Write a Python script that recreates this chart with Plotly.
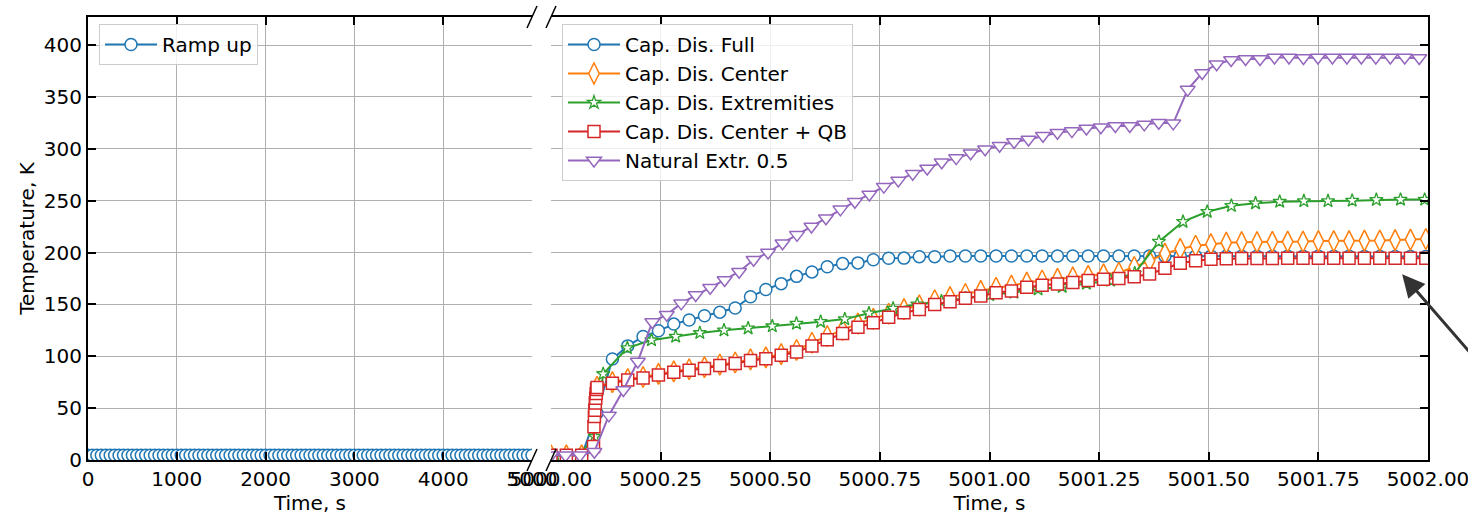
import plotly.graph_objects as go

# ---------------- data ----------------
# Left panel: ramp up (time in s, temperature in K)
ramp_time = list(range(0, 5001, 50))
ramp_temp = [4.5] * len(ramp_time)

# Right panel: times are seconds after 5000 s
STEP_A = 0.035   # Full / Center / Center+QB sampling
STEP_P = 0.033   # Natural Extr. sampling
STEP_G = 0.0551  # Extremities sampling

full_temp = [4.5, 4.5, 4.5, 45, 97.3, 110, 119, 124.5, 131, 135, 139, 142.5, 146.5,
             157.3, 164.3, 170, 177, 181.3, 186.2, 189.3, 190, 193, 194.4, 194.6,
             196, 196, 196.6, 196.6, 196.6, 196.6, 196.6, 196.6, 196.6, 196.6, 196.6,
             196.6, 196.6, 196.6, 196.6, 196.6, 196.5, 196.5, 196.5, 196.5, 196.4,
             196.4, 196.4, 196.4, 196.3, 196.3, 196.3, 196.3, 196.3, 196.2, 196.2,
             196.2, 196.2, 196.2]

# quench jump (several saved points at almost the same time)
jump_time = [0.097, 0.098, 0.099, 0.100, 0.101, 0.102, 0.103, 0.104, 0.105]
qb_jump = [13, 32, 42, 48, 55, 59.5, 64, 68, 70]
center_jump = [13.5, 32.5, 42.5, 48.5, 55.5, 60, 64.5, 68.5, 70.5]

qb_temp = [74, 77, 79, 82, 84.5, 86.4, 88.3, 91, 93, 96, 97.6, 101, 104, 110, 116,
           122, 128, 132.4, 137.5, 142, 145, 150, 152.6, 155.8, 158, 161.3, 163,
           166.5, 168.5, 169.6, 171, 173, 174.2, 175, 176.7, 179.3, 184.8, 189.6, 192,
           193.4, 194, 194.2, 194.3, 194.3, 194.4, 194.4, 194.4, 194.5, 194.5, 194.5,
           194.5, 194.5, 194.5, 194.5]
center_temp = [75, 78, 80, 83, 85.5, 87.5, 89.5, 92, 94, 97, 99, 102, 106, 113, 119.5,
               125.5, 131.5, 136, 141, 145.5, 149, 154, 157, 160, 163, 166, 168, 171,
               173, 174.5, 176, 177.5, 179, 180.5, 186, 192, 199, 203.5, 206.5, 208,
               209.5, 210, 210, 210.3, 210.5, 210.5, 211, 211, 211, 211.5, 211.5, 212,
               212.5, 213]

extr_pre_time = [0.009, 0.064, 0.100]
extr_pre_temp = [4.5, 4.5, 22.5]
extr_start = 0.119
extr_temp = [83, 108, 115.5, 119, 122.5, 125, 127, 129, 131.5, 133.3, 135.8, 141.5,
             146, 150, 153, 156, 159, 161.5, 164.5, 167, 170, 173, 180, 210.5, 229.7,
             239.3, 245, 247.5, 249, 249.6, 249.6, 250, 250.8, 251, 251]

nat_temp = [4.5, 4.5, 4.5, 8, 43, 67.5, 95, 133, 140, 151, 159, 166, 173.5, 181.5,
            193, 200, 209, 217, 225, 233, 241.6, 249, 256, 263.5, 269.5, 276, 281, 287,
            291, 295.6, 299.5, 303, 306.5, 309, 312.5, 315.5, 317, 319.5, 320.8, 322,
            322, 323.5, 325, 324.5, 357, 373, 381.5, 385.5, 386.5, 386.5, 388, 388,
            387.5, 388, 388, 388, 388, 388, 388, 388, 387.5]

names = ["Cap. Dis. Full", "Cap. Dis. Center", "Cap. Dis. Extremities",
         "Cap. Dis. Center + QB", "Natural Extr. 0.5"]
colors = ["#1f77b4", "#ff7f0e", "#2ca02c", "#d62728", "#9467bd"]

T0 = 5000.0
left_ticks = [0, 1000, 2000, 3000, 4000, 5000]
right_ticks = [5000.0, 5000.25, 5000.5, 5000.75, 5001.0, 5001.25, 5001.5, 5001.75, 5002.0]
right_ticktext = ["%.2f" % v for v in right_ticks]
y_ticks = list(range(0, 401, 50))

# arrow annotation: head and tail points (data coords of the right panel)
arrow_head = (5001.941, 179)
arrow_tail = (5002.146, 79)

# ---------------- build times ----------------
grid_a = lambda n, start=0: [T0 + STEP_A * (k + start) for k in range(n)]
full_t = grid_a(len(full_temp))
head_t = grid_a(3)
qb_t = head_t + [T0 + t for t in jump_time] + grid_a(len(qb_temp), 4)
qb_y = [4.5, 4.5, 4.5] + qb_jump + qb_temp
ce_t = head_t + [T0 + t for t in jump_time] + grid_a(len(center_temp), 4)
ce_y = [4.5, 4.5, 4.5] + center_jump + center_temp
ex_t = [T0 + t for t in extr_pre_time] + [T0 + extr_start + STEP_G * k for k in range(len(extr_temp))]
ex_y = extr_pre_temp + extr_temp
na_t = [T0 + STEP_P * k for k in range(len(nat_temp))]

FONT = "DejaVu Sans"
FS = 20
W, H = 1468, 517
ML, MR, MT, MB = 88, 40, 17, 57
PW, PH = W - ML - MR, H - MT - MB
dom1 = [0, 444 / PW]
dom2 = [463 / PW, 1]

fig = go.Figure()

def mk(symbol, color, size, lw=1.5):
    return dict(symbol=symbol, size=size, color="white", line=dict(color=color, width=lw))

fig.add_trace(go.Scatter(x=ramp_time, y=ramp_temp, mode="lines+markers", name="Ramp up",
                         line=dict(color=colors[0], width=2), marker=mk("circle", colors[0], 12),
                         xaxis="x", yaxis="y", legend="legend"))

series = [
    (full_t, full_temp, "circle", 12, 1.5),
    (ce_t, ce_y, "diamond-tall", 15, 1.5),
    (ex_t, ex_y, "star", 10, 1.3),
    (qb_t, qb_y, "square", 12, 1.5),
    (na_t, nat_temp, "triangle-down", 13, 1.5),
]
for (t, y, sym, sz, lw), nm, c in zip(series, names, colors):
    fig.add_trace(go.Scatter(x=t, y=y, mode="lines+markers", name=nm,
                             line=dict(color=c, width=2), marker=mk(sym, c, sz, lw),
                             xaxis="x2", yaxis="y2", legend="legend2"))

axis_common = dict(showgrid=True, gridcolor="#b0b0b0", gridwidth=1, zeroline=False,
                   ticks="inside", ticklen=8, tickwidth=1.5, tickcolor="black",
                   showline=True, linecolor="black", linewidth=2, automargin=False,
                   ticklabeloverflow="allow",
                   tickfont=dict(family=FONT, size=FS, color="black"))

fig.update_layout(
    width=W, height=H, margin=dict(l=ML, r=MR, t=MT, b=MB, autoexpand=False),
    paper_bgcolor="white", plot_bgcolor="white",
    font=dict(family=FONT, size=FS, color="black"),
    xaxis=dict(domain=dom1, range=[0, 5000], tickvals=left_ticks, mirror="ticks",
               title=dict(text="Time, s", font=dict(family=FONT, size=FS), standoff=4),
               anchor="y", **axis_common),
    xaxis2=dict(domain=dom2, range=[5000, 5002], tickvals=right_ticks, ticktext=right_ticktext,
                mirror="ticks", title=dict(text="Time, s", font=dict(family=FONT, size=FS), standoff=4),
                anchor="y2", **axis_common),
    yaxis=dict(range=[0, 427], tickvals=y_ticks, anchor="x",
               title=dict(text="Temperature, K", font=dict(family=FONT, size=FS), standoff=4),
               **axis_common),
    yaxis2=dict(range=[0, 427], tickvals=y_ticks, anchor="x2", side="right",
                showticklabels=False, matches="y", **axis_common),
    legend=dict(x=(99 - ML) / PW, y=(460 - 24) / PH, xanchor="left", yanchor="top",
                bgcolor="rgba(255,255,255,0.8)", bordercolor="#cccccc", borderwidth=1,
                itemwidth=52, font=dict(family=FONT, size=FS)),
    legend2=dict(x=(562 - ML) / PW, y=(460 - 24) / PH, xanchor="left", yanchor="top",
                 bgcolor="rgba(255,255,255,0.8)", bordercolor="#cccccc", borderwidth=1,
                 itemwidth=52, font=dict(family=FONT, size=FS)),
    showlegend=True,
)

# broken-axis diagonal marks
dx, dy = 5 / PW, 11 / PH
for xc in (dom1[1], dom2[0]):
    for yc in (0, 1):
        fig.add_shape(type="line", xref="paper", yref="paper",
                      x0=xc - dx, y0=yc - dy, x1=xc + dx, y1=yc + dy,
                      line=dict(color="black", width=1.5))

# arrow pointing at the Center + QB curve
fig.add_annotation(x=arrow_head[0], y=arrow_head[1], xref="x2", yref="y2", text="",
                   showarrow=True, ax=arrow_tail[0], ay=arrow_tail[1], axref="x2", ayref="y2",
                   arrowcolor="#333333", arrowwidth=3, arrowhead=2, arrowsize=1.5, standoff=0)

fig.write_html("out.html")
